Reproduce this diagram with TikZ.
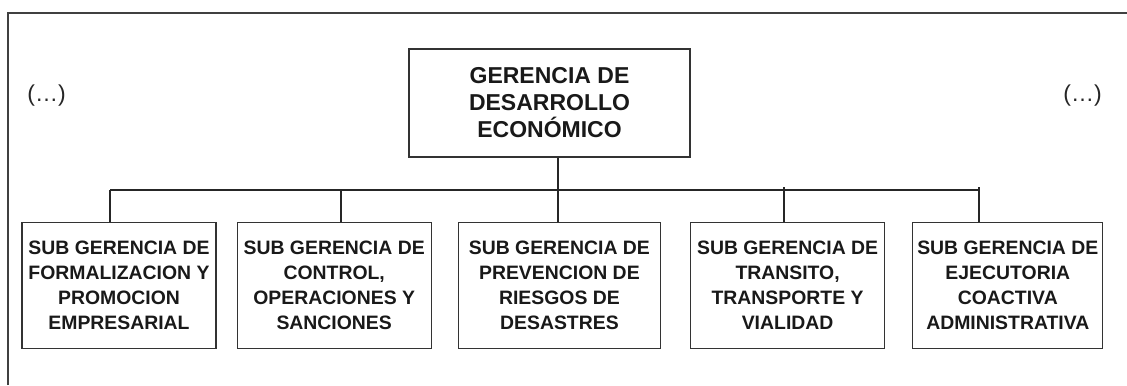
\documentclass[tikz,border=0pt]{standalone}
\usepackage{fontspec}
\setmainfont{Liberation Sans}
\usetikzlibrary{positioning}

\begin{document}
\begin{tikzpicture}[x=0.5pt,y=-0.5pt,
						gerencia/.style={draw=black!80,line width=0.6pt,align=center,inner sep=0pt,text=black!90,font=\bfseries\fontsize{11.5}{13.5}\selectfont,minimum width=140.5pt,minimum height=54pt},
						sub/.style={draw=black!80,line width=0.6pt,align=center,inner sep=0pt,text=black!90,font=\bfseries\fontsize{9.7}{12.5}\selectfont,minimum width=97pt,minimum height=63pt},
						puntos/.style={text=black!85,font=\fontsize{11.5}{13.5}\selectfont},
						linea/.style={draw=black!85,line width=0.6pt}]
		\useasboundingbox (0,0) rectangle (1127,385);
		\draw[black!75,line width=0.8pt] (8,385) -- (8,13) -- (1127,13);

		\node[puntos]	(izq)	at (46.5,96)		{(…)};
		\node[puntos]	(der)	at (1082.5,96)	{(…)};

		\node[gerencia]	(ger)	at (549.5,103)	{GERENCIA DE\\DESARROLLO\\ECONÓMICO};

		\node[sub]															(s1)	at (119,285.5)	{SUB GERENCIA DE\\FORMALIZACION Y\\PROMOCION\\EMPRESARIAL};
		\node[sub,node distance=10pt,right=of s1]							(s2)		{SUB GERENCIA DE\\CONTROL,\\OPERACIONES Y\\SANCIONES};
		\node[sub,node distance=13pt,right=of s2,minimum width=101pt]		(s3)		{SUB GERENCIA DE\\PREVENCION DE\\RIESGOS DE\\DESASTRES};
		\node[sub,node distance=14.5pt,right=of s3]							(s4)		{SUB GERENCIA DE\\TRANSITO,\\TRANSPORTE Y\\VIALIDAD};
		\node[sub,node distance=13.5pt,right=of s4,minimum width=95pt]		(s5)		{SUB GERENCIA DE\\EJECUTORIA\\COACTIVA\\ADMINISTRATIVA};

		\coordinate (b1) at (110,190);
		\coordinate (b2) at (341,190);
		\coordinate (b3) at (558,190);
		\coordinate (b4) at (784,190);
		\coordinate (b5) at (979,190);

		\draw[linea] (ger.south -| b3) -- (b3);
		\draw[linea] (b1) -- (b5);
		\draw[linea] (b1) -- (b1 |- s1.north);
		\draw[linea] (b2) -- (b2 |- s2.north);
		\draw[linea] (b3) -- (b3 |- s3.north);
		\draw[linea] ([yshift=1.5pt]b4) -- (b4 |- s4.north);
		\draw[linea] ([yshift=1.5pt]b5) -- (b5 |- s5.north);
	\end{tikzpicture}
\end{document}
